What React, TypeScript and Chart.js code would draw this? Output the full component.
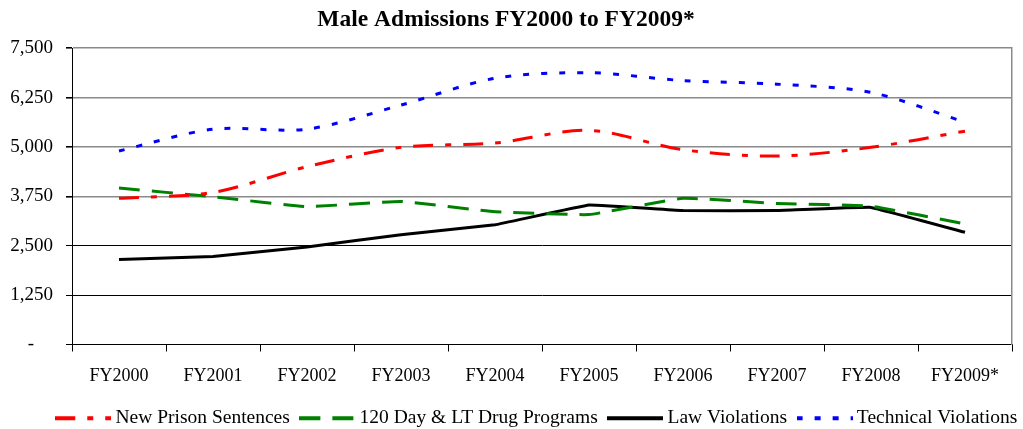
import React, { useEffect, useRef } from "react";
import { Chart, registerables } from "chart.js";

Chart.register(...registerables);

const CATEGORIES = ["FY2000", "FY2001", "FY2002", "FY2003", "FY2004", "FY2005", "FY2006", "FY2007", "FY2008", "FY2009*"];
const NEW_PRISON = [3700, 3850, 4500, 4990, 5100, 5420, 4930, 4770, 4990, 5400];
const DRUG_PROGRAMS = [3960, 3740, 3490, 3620, 3360, 3290, 3700, 3570, 3500, 3050];
const LAW_VIOLATIONS = [2150, 2230, 2470, 2780, 3030, 3530, 3390, 3390, 3470, 2840];
const TECH_VIOLATIONS = [4900, 5450, 5450, 6060, 6740, 6880, 6680, 6590, 6380, 5630];
const SERIES_NAMES = ["New Prison Sentences", "120 Day & LT Drug Programs", "Law Violations", "Technical Violations"];
const SERIES_COLORS = ["#FF0000", "#008000", "#000000", "#0000FF"];
const SERIES_DASHES: number[][] = [[20, 12, 6, 12], [21, 12], [], [6, 12]];
const SERIES_TENSION = [0.3, 0.1, 0.05, 0.3];
const Y_MAX = 7500;
const Y_STEP = 1250;

const FONT = "'Liberation Serif', 'Times New Roman', serif";

function swatch(color: string, dash: number[]): HTMLCanvasElement {
  const c = document.createElement("canvas");
  c.width = 56;
  c.height = 6;
  const ctx = c.getContext("2d")!;
  ctx.strokeStyle = color;
  ctx.lineWidth = 4;
  ctx.setLineDash(dash);
  ctx.beginPath();
  ctx.moveTo(0, 3);
  ctx.lineTo(56, 3);
  ctx.stroke();
  return c;
}

const legendShift = {
  id: "legendShift",
  afterLayout(chart: any) {
    const l = chart.legend;
    if (l) {
      l.left += 33;
      l.right += 33;
    }
  },
};

export default function App() {
  const ref = useRef<HTMLCanvasElement | null>(null);

  useEffect(() => {
    document.body.style.margin = "0";
    const canvas = ref.current!;
    const series = [NEW_PRISON, DRUG_PROGRAMS, LAW_VIOLATIONS, TECH_VIOLATIONS];
    const swatches = SERIES_COLORS.map((c, i) => swatch(c, SERIES_DASHES[i]));
    const chart = new Chart(canvas, {
      type: "line",
      data: {
        labels: CATEGORIES,
        datasets: series.map((d, i) => ({
          label: SERIES_NAMES[i],
          data: d,
          borderColor: SERIES_COLORS[i],
          backgroundColor: SERIES_COLORS[i],
          borderWidth: 3,
          borderDash: SERIES_DASHES[i],
          pointRadius: 0,
          pointHoverRadius: 0,
          tension: SERIES_TENSION[i],
          fill: false,
          pointStyle: swatches[i] as any,
        })),
      },
      plugins: [legendShift],
      options: {
        animation: false,
        responsive: false,
        layout: { padding: { left: 0, right: 11, top: 0, bottom: -9 } },
        plugins: {
          title: {
            display: true,
            text: "Male Admissions FY2000 to FY2009*",
            color: "#000",
            font: { family: FONT, size: 23.5, weight: "bold" },
            padding: { top: 6, bottom: 14 },
          },
          legend: {
            position: "bottom",
            labels: {
              color: "#000",
              font: { family: FONT, size: 19.5 },
              usePointStyle: true,
              pointStyleWidth: 45,
              padding: 15,
              boxHeight: 6,
            },
          },
          tooltip: { enabled: false },
        },
        scales: {
          x: {
            offset: true,
            grid: {
              offset: true,
              drawOnChartArea: false,
              drawTicks: true,
              tickLength: 7,
              color: "#000",
            },
            border: { display: true, color: "#000", width: 1 },
            ticks: {
              color: "#000",
              font: { family: FONT, size: 18 },
              padding: 14,
              maxRotation: 0,
              autoSkip: false,
            },
            afterFit: (s: any) => {
              s.height = 49;
            },
          },
          y: {
            min: 0,
            max: Y_MAX,
            ticks: {
              stepSize: Y_STEP,
              color: "#000",
              font: { family: FONT, size: 19 },
              padding: 13,
              callback: (v: any) => (Number(v) === 0 ? "-    " : Number(v).toLocaleString("en-US")),
            },
            grid: {
              color: (ctx: any) => (ctx.tick && ctx.tick.value >= 3750 ? "#8a8a8a" : "#000"),
              lineWidth: (ctx: any) => (ctx.tick && ctx.tick.value >= 3750 ? 1.6 : 1),
              tickColor: "#000",
              tickLength: 6,
              drawTicks: true,
            },
            border: { display: true, color: "#000", width: 1 },
            afterFit: (s: any) => {
              s.width = 72;
            },
          },
          y2: {
            position: "right",
            display: true,
            ticks: { display: false },
            grid: { drawOnChartArea: false, drawTicks: false },
            border: { display: true, color: "#8a8a8a", width: 1.5 },
            afterFit: (s: any) => {
              s.width = 0;
            },
          },
        },
      } as any,
    });
    return () => chart.destroy();
  }, []);

  return (
    <div style={{ position: "absolute", left: 0, top: 0, width: 1023, height: 429 }}>
      <canvas ref={ref} width={1023} height={429} style={{ width: 1023, height: 429, display: "block" }} />
    </div>
  );
}
